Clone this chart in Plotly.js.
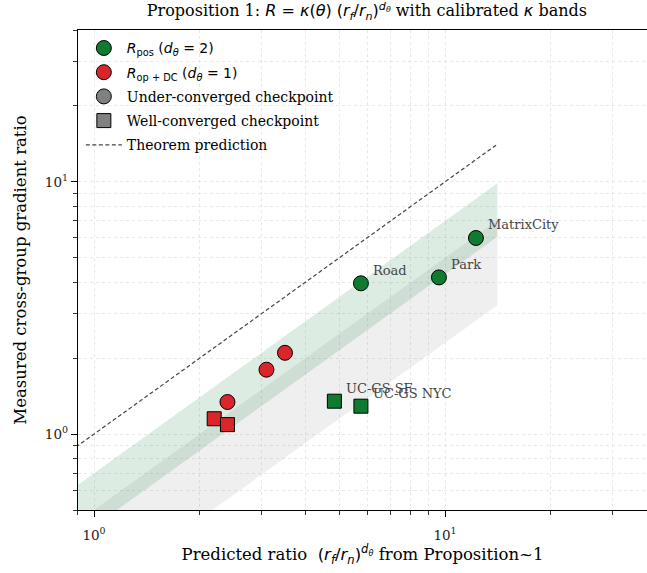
<!DOCTYPE html>
<html><head><meta charset="utf-8">
<script src="https://cdn.plot.ly/plotly-3.0.1.min.js"></script>
<style>html,body{margin:0;padding:0;background:#fff}#chart{width:647px;height:573px}</style>
</head><body><div id="chart"></div>
<script>
// ---- data ----
const posCircleX = [5.76, 9.61, 12.25];
const posCircleY = [3.96, 4.18, 5.99];
const posCircleLabels = ['Road', 'Park', 'MatrixCity'];
const posSquareX = [4.84, 5.76];
const posSquareY = [1.35, 1.29];
const posSquareLabels = ['UC-GS SF', 'UC-GS NYC'];
const opCircleX = [2.4, 3.1, 3.5];
const opCircleY = [1.34, 1.80, 2.10];
const opSquareX = [2.2, 2.4];
const opSquareY = [1.15, 1.09];
const bandX = [0.8, 14.1];
const kappaGreen = [0.43, 0.70];
const kappaGrey = [0.23, 0.50];
const theoremX = [0.8, 14.1];
const xTickVals = [1, 10];
const xTickText = ['10<sup>0</sup>', '10<sup>1</sup>'];
const xMinorVals = [0.9, 2, 3, 4, 5, 6, 7, 8, 9, 20, 30];
const yTickVals = [1, 10];
const yTickText = ['10<sup>0</sup>', '10<sup>1</sup>'];
const yMinorVals = [0.5, 0.6, 0.7, 0.8, 0.9, 2, 3, 4, 5, 6, 7, 8, 9, 20, 30, 40];

const GREEN = '#0f7a30';
const RED = '#d8262a';
const SERIF = 'DejaVu Serif';
const M = s => `<span style="font-family:'DejaVu Sans'">${s}</span>`;

function band(k) {
  return {
    x: [bandX[0], bandX[1], bandX[1], bandX[0], bandX[0]],
    y: [k[1] * bandX[0], k[1] * bandX[1], k[0] * bandX[1], k[0] * bandX[0], k[1] * bandX[0]]
  };
}
const gb = band(kappaGrey), gr = band(kappaGreen);

const traces = [
  {x: gb.x, y: gb.y, mode: 'lines', fill: 'toself', fillcolor: 'rgba(150,150,150,0.15)',
   line: {width: 0}, showlegend: false, hoverinfo: 'skip'},
  {x: gr.x, y: gr.y, mode: 'lines', fill: 'toself', fillcolor: 'rgba(30,130,60,0.15)',
   line: {width: 0}, showlegend: false, hoverinfo: 'skip'},
  {x: theoremX, y: theoremX, mode: 'lines', name: 'Theorem prediction',
   line: {color: '#444', width: 1.2, dash: '4px,2.5px'}, legendrank: 5, legendgroup: 'e'},
  {x: posCircleX, y: posCircleY, mode: 'markers', name: M('<i>R</i><sub>pos</sub>') + ' ' + M('(<i>d</i><sub><i>θ</i></sub> = 2)'),
   marker: {symbol: 'circle', size: 15, color: GREEN, line: {color: '#000', width: 1}}, legendrank: 1, legendgroup: 'a'},
  {x: opCircleX, y: opCircleY, mode: 'markers', name: M('<i>R</i><sub>op + DC</sub>') + ' ' + M('(<i>d</i><sub><i>θ</i></sub> = 1)'),
   marker: {symbol: 'circle', size: 15, color: RED, line: {color: '#000', width: 1}}, legendrank: 2, legendgroup: 'b'},
  {x: posSquareX, y: posSquareY, mode: 'markers', showlegend: false,
   marker: {symbol: 'square', size: 14, color: GREEN, line: {color: '#000', width: 1}}},
  {x: opSquareX, y: opSquareY, mode: 'markers', showlegend: false,
   marker: {symbol: 'square', size: 14, color: RED, line: {color: '#000', width: 1}}},
  {x: [null], y: [null], mode: 'markers', name: 'Under-converged checkpoint',
   marker: {symbol: 'circle', size: 15, color: '#808080', line: {color: '#000', width: 1}}, legendrank: 3, legendgroup: 'c'},
  {x: [null], y: [null], mode: 'markers', name: 'Well-converged checkpoint',
   marker: {symbol: 'square', size: 14, color: '#808080', line: {color: '#000', width: 1}}, legendrank: 4, legendgroup: 'd'}
];

const annotations = [];
posCircleX.forEach((x, i) => annotations.push({x: Math.log10(x), y: Math.log10(posCircleY[i]), text: posCircleLabels[i]}));
posSquareX.forEach((x, i) => annotations.push({x: Math.log10(x), y: Math.log10(posSquareY[i]), text: posSquareLabels[i]}));
annotations.forEach(a => Object.assign(a, {xref: 'x', yref: 'y', showarrow: false, xanchor: 'left', yanchor: 'middle',
  xshift: 10, yshift: 13, font: {family: SERIF, size: 13, color: '#444'}}));

const gridStyle = {gridcolor: '#e2e2e2', griddash: 'dot', gridwidth: 0.8};
const axisCommon = {
  type: 'log', showline: true, linecolor: '#000', linewidth: 1.3, zeroline: false,
  ticks: 'outside', ticklen: 6, tickwidth: 1, tickcolor: '#000', tickmode: 'array',
  showgrid: true, ...gridStyle,
  tickfont: {family: SERIF, size: 13.5, color: '#222'}
};

const layout = {
  width: 647, height: 573,
  margin: {l: 78, r: 0, t: 30, b: 63},
  paper_bgcolor: '#fff', plot_bgcolor: '#fff',
  title: {text: 'Proposition 1: ' + M('<i>R</i> = <i>κ</i>(<i>θ</i>) (<i>r<sub>f</sub></i>/<i>r<sub>n</sub></i>)<sup><i>d<sub>θ</sub></i></sup>') + ' with calibrated ' + M('<i>κ</i>') + ' bands',
    x: 0.567, xref: 'container', xanchor: 'center', y: 0.981, yref: 'container', yanchor: 'middle',
    font: {family: SERIF, size: 16, color: '#000'}},
  xaxis: {...axisCommon, mirror: true,
    range: [Math.log10(0.9003), 1.5755],
    tickvals: xTickVals, ticktext: xTickText, ticklabelstandoff: 6,
    minor: {tickmode: 'array', tickvals: xMinorVals, ticks: 'outside', ticklen: 3.5, tickwidth: 0.8, tickcolor: '#000', showgrid: true, ...gridStyle},
    title: {text: 'Predicted ratio  ' + M('(<i>r<sub>f</sub></i>/<i>r<sub>n</sub></i>)<sup><i>d<sub>θ</sub></i></sup>') + ' from Proposition~1',
      font: {family: SERIF, size: 16.5, color: '#000'}, standoff: 6}},
  yaxis: {...axisCommon, mirror: false,
    range: [Math.log10(0.5), Math.log10(40)],
    tickvals: yTickVals, ticktext: yTickText,
    minor: {tickmode: 'array', tickvals: yMinorVals, ticks: 'outside', ticklen: 3.5, tickwidth: 0.8, tickcolor: '#000', showgrid: true, ...gridStyle},
    title: {text: 'Measured cross-group gradient ratio', font: {family: SERIF, size: 16.5, color: '#000'}, standoff: 14}},
  legend: {x: 0.005, y: 0.995, xanchor: 'left', yanchor: 'top', bgcolor: 'rgba(0,0,0,0)',
    traceorder: 'grouped', tracegroupgap: 3, itemwidth: 36,
    font: {family: SERIF, size: 14, color: '#000'}},
  annotations: annotations,
  showlegend: true
};

Plotly.newPlot('chart', traces, layout, {displayModeBar: false, staticPlot: true});
</script>
</body></html>
